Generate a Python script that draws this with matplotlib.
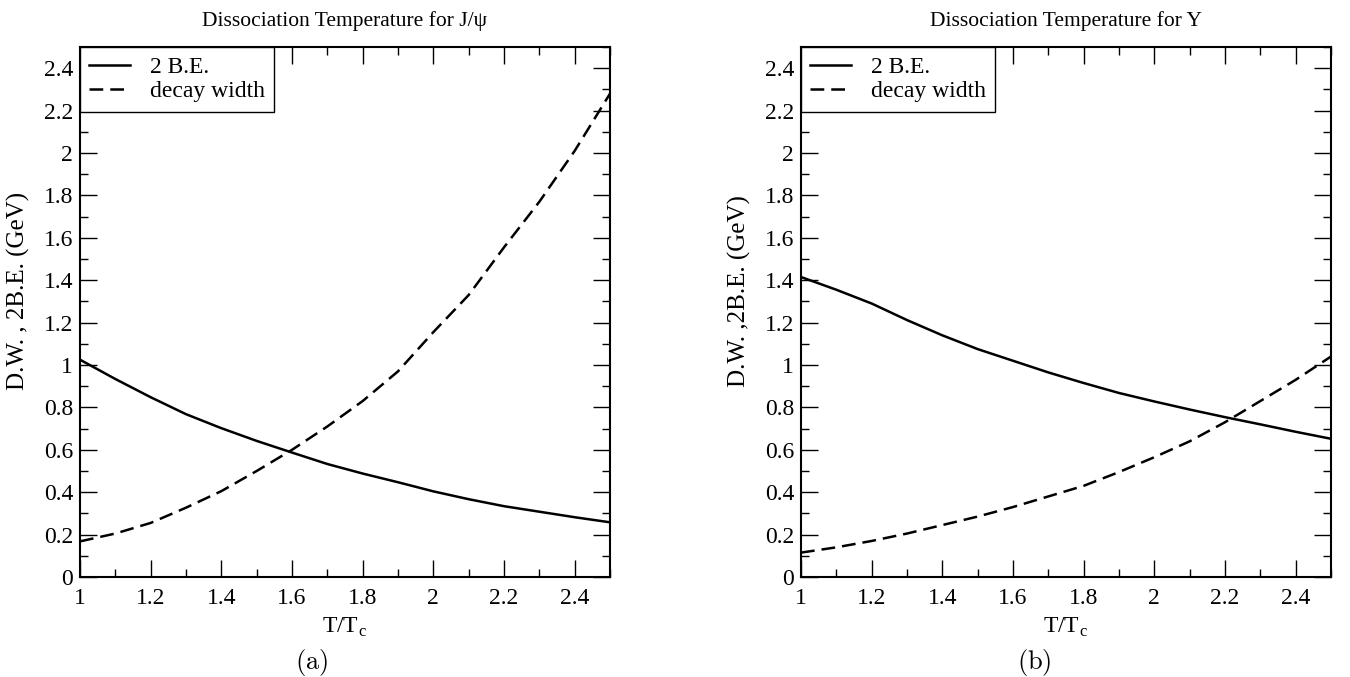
import matplotlib
matplotlib.use("Agg")
import matplotlib.pyplot as plt
from matplotlib.ticker import MultipleLocator, FuncFormatter

plt.rcParams['font.family'] = ['Liberation Serif', 'DejaVu Serif']
plt.rcParams['mathtext.fontset'] = 'cm'

# T/Tc grid
t_tc = [1.0, 1.1, 1.2, 1.3, 1.4, 1.5, 1.6, 1.7, 1.8, 1.9, 2.0, 2.1, 2.2, 2.3, 2.4, 2.5]

# J/psi panel
be_jpsi = [1.025, 0.934, 0.848, 0.768, 0.702, 0.642, 0.587, 0.533, 0.488, 0.447,
           0.404, 0.367, 0.334, 0.308, 0.282, 0.258]
dw_jpsi = [0.168, 0.205, 0.255, 0.327, 0.405, 0.50, 0.60, 0.71, 0.83, 0.97,
           1.155, 1.33, 1.555, 1.77, 2.01, 2.28]

# Upsilon panel
be_ups = [1.415, 1.355, 1.29, 1.212, 1.14, 1.075, 1.02, 0.965, 0.915, 0.868,
          0.828, 0.79, 0.754, 0.72, 0.685, 0.652]
dw_ups = [0.115, 0.14, 0.17, 0.205, 0.245, 0.285, 0.33, 0.38, 0.43, 0.495,
          0.565, 0.64, 0.73, 0.83, 0.93, 1.04]

titles = ["Dissociation Temperature for J/\u03c8", "Dissociation Temperature for \u03a5"]
ylabels = ["D.W. , 2B.E. (GeV)", "D.W. ,2B.E. (GeV)"]
tags = [r"$\mathrm{(a)}$", r"$\mathrm{(b)}$"]

fig = plt.figure(figsize=(13.5, 6.77), dpi=100)
ax1 = fig.add_axes([80/1350, 100/677, 530/1350, 530/677])
ax2 = fig.add_axes([801/1350, 100/677, 530/1350, 530/677])

fmt = FuncFormatter(lambda v, p: "%g" % round(v, 2))

panels = [(ax1, be_jpsi, dw_jpsi), (ax2, be_ups, dw_ups)]
for i, (ax, be, dw) in enumerate(panels):
    ax.plot(t_tc, be, color='black', lw=1.8, label='2 B.E.')
    ax.plot(t_tc, dw, color='black', lw=1.8, ls=(0, (5.5, 2.8)), label='decay width')
    ax.set_xlim(1, 2.5)
    ax.set_ylim(0, 2.5)
    ax.xaxis.set_major_locator(MultipleLocator(0.2))
    ax.xaxis.set_minor_locator(MultipleLocator(0.1))
    ax.yaxis.set_major_locator(MultipleLocator(0.2))
    ax.yaxis.set_minor_locator(MultipleLocator(0.1))
    ax.xaxis.set_major_formatter(fmt)
    ax.yaxis.set_major_formatter(fmt)
    ax.tick_params(which='both', direction='in', top=True, right=True, width=1.0)
    ax.tick_params(which='major', length=12, labelsize=17)
    ax.tick_params(which='minor', length=6)
    ax.tick_params(axis='x', pad=8)
    ax.tick_params(axis='y', pad=5)
    for s in ax.spines.values():
        s.set_linewidth(1.5)
    ax.set_title(titles[i], fontsize=15.5, pad=15)
    ax.set_xlabel(r"T/T$_\mathregular{c}$", fontsize=17, labelpad=5)
    ax.set_ylabel(ylabels[i], fontsize=18)
    ax.yaxis.set_label_coords(-0.095, 0.54)
    leg = ax.legend(loc='upper left', borderaxespad=0, fancybox=False,
                    edgecolor='black', framealpha=1, fontsize=17,
                    handlelength=1.7, handletextpad=0.85, borderpad=0.4,
                    labelspacing=0.12)
    leg.get_frame().set_linewidth(1.0)

fig.text(312/1350, 15/677, tags[0], fontsize=19, ha='center', va='center')
fig.text(1034/1350, 15/677, tags[1], fontsize=19, ha='center', va='center')

fig.savefig("out.png", dpi=100)
